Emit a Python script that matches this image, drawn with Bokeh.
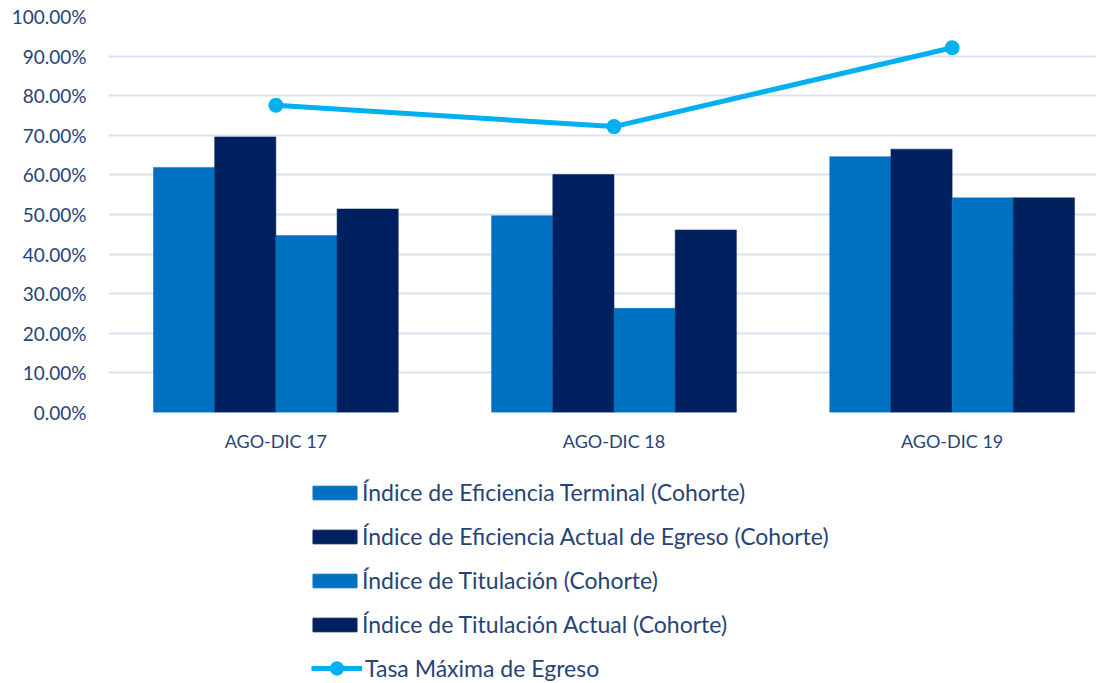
from bokeh.plotting import figure
from bokeh.layouts import column
from bokeh.models import (ColumnDataSource, Range1d, FixedTicker, PrintfTickFormatter,
                          Legend, LegendItem)
from bokeh.transform import dodge
from bokeh.embed import file_html
from bokeh.resources import INLINE

# ---- data ----
periods = ["AGO-DIC 17", "AGO-DIC 18", "AGO-DIC 19"]
eficiencia_terminal = [61.9, 49.7, 64.6]
eficiencia_actual_egreso = [69.6, 60.1, 66.5]
titulacion = [44.7, 26.3, 54.2]
titulacion_actual = [51.4, 46.1, 54.2]
tasa_maxima_egreso = [77.6, 72.2, 92.1]

series_names = [
    "Índice de Eficiencia Terminal (Cohorte)",
    "Índice de Eficiencia Actual de Egreso (Cohorte)",
    "Índice de Titulación (Cohorte)",
    "Índice de Titulación Actual (Cohorte)",
]
line_name = "Tasa Máxima de Egreso"
y_ticks = [0, 10, 20, 30, 40, 50, 60, 70, 80, 90, 100]

# ---- styling ----
LIGHT = "#0070C0"
DARK = "#002060"
CYAN = "#00B0F0"
TEXT = "#264478"
FONT = "Lato"
W = 1096

positions = list(range(len(periods)))
source = ColumnDataSource(dict(
    x=positions,
    et=eficiencia_terminal,
    eae=eficiencia_actual_egreso,
    t=titulacion,
    ta=titulacion_actual,
    tasa=tasa_maxima_egreso,
))

p = figure(width=W, height=454,
           x_range=Range1d(-0.495, 2.427), y_range=Range1d(0, 100),
           output_backend="svg", toolbar_location=None,
           min_border_left=108, min_border_right=0,
           min_border_top=16, min_border_bottom=42)

bar_w = 0.181
cols = ["et", "eae", "t", "ta"]
colors = [LIGHT, DARK, LIGHT, DARK]
offsets = [-1.5 * bar_w, -0.5 * bar_w, 0.5 * bar_w, 1.5 * bar_w]
for col, colr, off in zip(cols, colors, offsets):
    p.vbar(x=dodge("x", off, range=p.x_range), top=col, width=bar_w,
           source=source, fill_color=colr, line_color=colr, line_width=0.5)

p.line("x", "tasa", source=source, line_color=CYAN, line_width=5)
p.scatter("x", "tasa", source=source, size=15, fill_color=CYAN, line_color=None)

# axes
p.yaxis.ticker = FixedTicker(ticks=y_ticks)
p.yaxis.formatter = PrintfTickFormatter(format="%.2f%%")
p.xaxis.ticker = FixedTicker(ticks=positions)
p.xaxis.major_label_overrides = {i: name for i, name in enumerate(periods)}
for ax in (p.xaxis, p.yaxis):
    ax.axis_line_color = None
    ax.major_tick_line_color = None
    ax.minor_tick_line_color = None
    ax.major_tick_out = 0
    ax.major_tick_in = 0
    ax.major_label_text_font = FONT
    ax.major_label_text_color = TEXT
p.yaxis.major_label_text_font_size = "19px"
p.xaxis.major_label_text_font_size = "18px"
p.yaxis.major_label_standoff = 22
p.xaxis.major_label_standoff = 17

p.xgrid.grid_line_color = None
p.ygrid.grid_line_color = "#D9E1F2"
p.ygrid.grid_line_width = 2
p.outline_line_color = None
p.border_fill_color = "white"

# ---- legend panel (separate figure below the chart) ----
# proxies reuse the same data, but this panel's y-range keeps them out of view
lf = figure(width=W, height=228, x_range=Range1d(0, 1), y_range=Range1d(500, 600),
            output_backend="svg", toolbar_location=None, min_border=0)
lf.axis.visible = False
lf.grid.grid_line_color = None
lf.outline_line_color = None

bar_proxies = [lf.vbar(x="x", top=col, width=0.1, source=source,
                       fill_color=c, line_color=c) for col, c in zip(cols, colors)]
line_proxy = lf.line(x="x", y="tasa", source=source, line_color=CYAN, line_width=5)
mark_proxy = lf.scatter(x="x", y="tasa", source=source, fill_color=CYAN, line_color=None)

common = dict(orientation="vertical", padding=0, margin=0,
              label_text_font=FONT, label_text_font_size="23px",
              label_text_color=TEXT, border_line_color=None,
              background_fill_alpha=0)

leg1 = Legend(items=[LegendItem(label=n, renderers=[r])
                     for n, r in zip(series_names, bar_proxies)],
              location=(199, 44), glyph_width=55, glyph_height=17,
              label_standoff=0, label_height=20, spacing=16, **common)
leg2 = Legend(items=[LegendItem(label=line_name, renderers=[line_proxy, mark_proxy])],
              location=(203, -4), glyph_width=51, glyph_height=36,
              label_standoff=3, label_height=20, spacing=0, **common)
lf.add_layout(leg1)
lf.add_layout(leg2)

layout = column(p, lf, spacing=0)
open("out.html", "w").write(file_html(layout, INLINE))
